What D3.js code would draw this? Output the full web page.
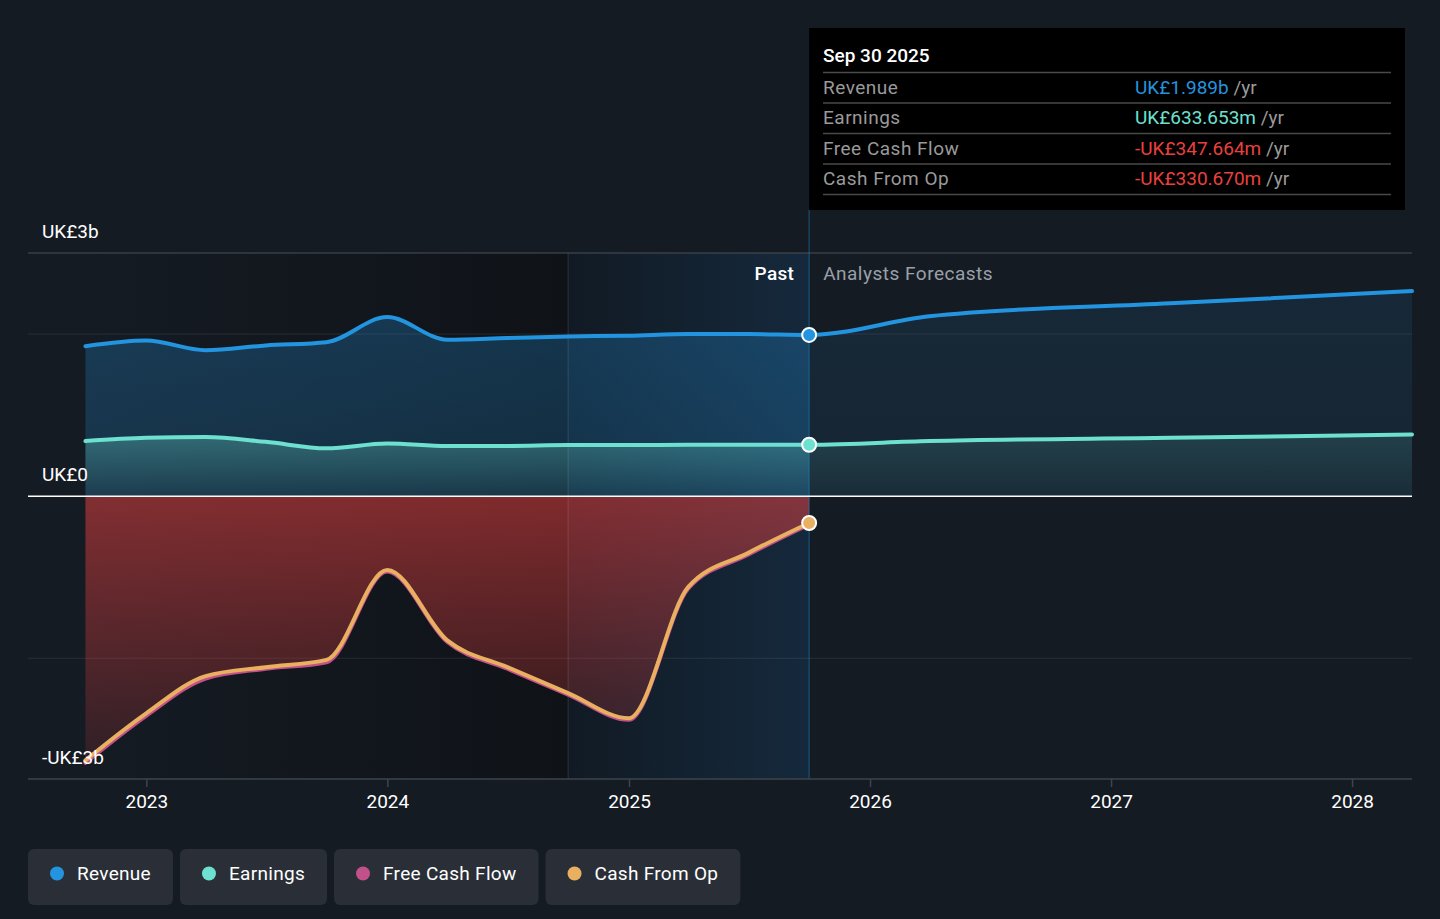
<!DOCTYPE html>
<html>
<head>
<meta charset="utf-8">
<script src="https://cdn.jsdelivr.net/npm/d3@7"></script>
<style>
    html, body { margin: 0; padding: 0; background: #151b23; }
    body { width: 1440px; height: 919px; overflow: hidden; font-family: Roboto, "Noto Sans", sans-serif; }
</style>
</head>
<body>
<div id="chart"></div>
<script>
// values in billions of UK£
const periods = [
    "2022-09-30", "2022-12-31", "2023-03-31", "2023-06-30", "2023-09-30",
    "2023-12-31", "2024-03-31", "2024-06-30", "2024-09-30", "2024-12-31",
    "2025-03-31", "2025-06-30", "2025-09-30",
];
const revenue = [1.85, 1.92, 1.80, 1.86, 1.90, 2.21, 1.93, 1.95, 1.97, 1.98, 2.0, 2.0, 1.989];
const earnings = [0.68, 0.72, 0.73, 0.67, 0.59, 0.65, 0.62, 0.62, 0.63, 0.63, 0.633, 0.633, 0.634];
const freeCashFlow = [-3.29, -2.71, -2.25, -2.13, -2.05, -0.93, -1.80, -2.13, -2.45, -2.76, -1.14, -0.72, -0.348];
const cashFromOp = [-3.26, -2.68, -2.22, -2.11, -2.02, -0.91, -1.78, -2.11, -2.43, -2.74, -1.12, -0.70, -0.331];

const forecastPeriods = ["2025-09-30", "2026-03-31", "2027-03-31", "2028-03-31"];
const revenueForecast = [1.989, 2.22, 2.38, 2.53];
const earningsForecast = [0.634, 0.68, 0.72, 0.76];

const yearTicks = ["2023", "2024", "2025", "2026", "2027", "2028"];
const yTickValues = [3, 0, -3.49];
const yTickLabels = ["UK£3b", "UK£0", "-UK£3b"];
const gridValues = [2, -2];

const highlightStart = "2024-09-30";
const tooltipTitle = "Sep 30 2025";
const tooltipLabels = ["Revenue", "Earnings", "Free Cash Flow", "Cash From Op"];
const tooltipValues = ["UK£1.989b", "UK£633.653m", "-UK£347.664m", "-UK£330.670m"];
const legendLabels = ["Revenue", "Earnings", "Free Cash Flow", "Cash From Op"];

const colors = {
    revenue: "#2394df",
    earnings: "#6de0d0",
    fcf: "#c2508a",
    cfo: "#e9b062",
    negative: "#e8403f",
};
const legendColors = [colors.revenue, colors.earnings, colors.fcf, colors.cfo];
const tooltipColors = [colors.revenue, colors.earnings, colors.negative, colors.negative];

const parseDate = d3.timeParse("%Y-%m-%d");

const svg = d3.select("#chart")
    .append("svg")
    .attr("width", 1440)
    .attr("height", 919)
    .style("font-family", "Roboto, 'Noto Sans', sans-serif");

const x = d3.scaleTime()
    .domain([new Date(2022, 6, 5), new Date(2028, 2, 31)])
    .range([28, 1412]);
const y = d3.scaleLinear().domain([-3.49, 3]).range([779, 253]);

const past = periods.map((p, i) => ({
    date: parseDate(p),
    revenue: revenue[i],
    earnings: earnings[i],
    fcf: freeCashFlow[i],
    cfo: cashFromOp[i],
}));
const future = forecastPeriods.map((p, i) => ({
    date: parseDate(p),
    revenue: revenueForecast[i],
    earnings: earningsForecast[i],
}));

const xStart = x(past[0].date);
const xHigh = x(parseDate(highlightStart));
const xNow = x(past[past.length - 1].date);
const xEnd = x.range()[1];
const yTop = y(3);
const yBottom = y.range()[0];

const defs = svg.append("defs");

function linGrad(id, x1, y1, x2, y2, stops) {
    const g = defs.append("linearGradient")
        .attr("id", id)
        .attr("gradientUnits", "userSpaceOnUse")
        .attr("x1", x1).attr("y1", y1)
        .attr("x2", x2).attr("y2", y2);
    stops.forEach((s) => {
        g.append("stop")
            .attr("offset", s[0])
            .attr("stop-color", s[1])
            .attr("stop-opacity", s[2]);
    });
}

linGrad("past-bg", xStart, 0, xHigh, 0, [[0, "#151b23", 1], [1, "#0f1318", 1]]);
linGrad("high-bg", xHigh, 0, xNow, 0, [[0, "#111a24", 1], [1, "#15293c", 1]]);
linGrad("rev-past", 0, y(2.2), 0, y(0), [[0, colors.revenue, 0.27], [1, colors.revenue, 0.19]]);
linGrad("rev-future", 0, y(2.5), 0, y(0), [[0, colors.revenue, 0.11], [1, colors.revenue, 0.08]]);
linGrad("earn-past", 0, y(0.7), 0, y(0), [[0, colors.earnings, 0.3], [1, colors.earnings, 0.06]]);
linGrad("earn-future", 0, y(0.75), 0, y(0), [[0, colors.earnings, 0.14], [1, colors.earnings, 0.04]]);
linGrad("neg-past", 0, y(0), 0, yBottom, [[0, colors.negative, 0.52], [1, colors.negative, 0.1]]);

defs.append("clipPath").attr("id", "clip-past")
    .append("rect").attr("x", 0).attr("y", 0).attr("width", xNow).attr("height", 919);
defs.append("clipPath").attr("id", "clip-future")
    .append("rect").attr("x", xNow).attr("y", 0).attr("width", 1440 - xNow).attr("height", 919);

// background bands
svg.append("rect")
    .attr("x", xStart).attr("y", yTop)
    .attr("width", xHigh - xStart).attr("height", yBottom - yTop)
    .attr("fill", "url(#past-bg)");
svg.append("rect")
    .attr("x", xHigh).attr("y", yTop)
    .attr("width", xNow - xHigh).attr("height", yBottom - yTop)
    .attr("fill", "url(#high-bg)");

// grid
svg.append("line")
    .attr("x1", 28).attr("x2", xEnd)
    .attr("y1", yTop).attr("y2", yTop)
    .attr("stroke", "#4a5159").attr("stroke-width", 1.2);
svg.append("g")
    .selectAll("line")
    .data(gridValues)
    .enter()
    .append("line")
    .attr("x1", 28).attr("x2", xEnd)
    .attr("y1", (d) => y(d)).attr("y2", (d) => y(d))
    .attr("stroke", "#ffffff").attr("stroke-opacity", 0.09).attr("stroke-width", 1);

const curve = d3.curveMonotoneX;

function area(key, data) {
    return d3.area().curve(curve).x((d) => x(d.date)).y0(y(0)).y1((d) => y(d[key]))(data);
}
function line(key, data) {
    return d3.line().curve(curve).x((d) => x(d.date)).y((d) => y(d[key]))(data);
}

// areas
const revAll = past.map((d) => ({ date: d.date, revenue: d.revenue, earnings: d.earnings }))
    .concat(future.slice(1));
svg.append("path").attr("d", area("revenue", revAll))
    .attr("fill", "url(#rev-past)").attr("clip-path", "url(#clip-past)");
svg.append("path").attr("d", area("revenue", revAll))
    .attr("fill", "url(#rev-future)").attr("clip-path", "url(#clip-future)");
svg.append("path").attr("d", area("earnings", revAll))
    .attr("fill", "url(#earn-past)").attr("clip-path", "url(#clip-past)");
svg.append("path").attr("d", area("earnings", revAll))
    .attr("fill", "url(#earn-future)").attr("clip-path", "url(#clip-future)");
svg.append("path").attr("d", area("fcf", past))
    .attr("fill", "url(#neg-past)");

// vertical markers
svg.append("line")
    .attr("x1", xHigh).attr("x2", xHigh).attr("y1", yTop).attr("y2", yBottom)
    .attr("stroke", "#ffffff").attr("stroke-opacity", 0.08).attr("stroke-width", 1.5);
svg.append("line")
    .attr("x1", xNow).attr("x2", xNow).attr("y1", 210).attr("y2", yBottom)
    .attr("stroke", colors.revenue).attr("stroke-opacity", 0.4).attr("stroke-width", 1.2);

// zero line
svg.append("line")
    .attr("x1", 28).attr("x2", xEnd)
    .attr("y1", y(0)).attr("y2", y(0))
    .attr("stroke", "#ffffff").attr("stroke-width", 1.5);

// lines
svg.append("path").attr("d", line("revenue", revAll))
    .attr("fill", "none").attr("stroke", colors.revenue).attr("stroke-width", 4)
    .attr("stroke-linecap", "round");
svg.append("path").attr("d", line("earnings", revAll))
    .attr("fill", "none").attr("stroke", colors.earnings).attr("stroke-width", 4)
    .attr("stroke-linecap", "round");
svg.append("path").attr("d", line("fcf", past))
    .attr("fill", "none").attr("stroke", colors.fcf).attr("stroke-width", 4)
    .attr("stroke-linecap", "round");
svg.append("path").attr("d", line("cfo", past))
    .attr("fill", "none").attr("stroke", colors.cfo).attr("stroke-width", 4)
    .attr("stroke-linecap", "round");

// end markers
const last = past[past.length - 1];
[["revenue", colors.revenue], ["earnings", colors.earnings], ["cfo", colors.cfo]].forEach((m) => {
    svg.append("circle")
        .attr("cx", x(last.date)).attr("cy", y(last[m[0]]))
        .attr("r", 7)
        .attr("fill", m[1])
        .attr("stroke", "#ffffff").attr("stroke-width", 2);
});

// x axis
svg.append("line")
    .attr("x1", 28).attr("x2", xEnd)
    .attr("y1", yBottom).attr("y2", yBottom)
    .attr("stroke", "#3d444c").attr("stroke-width", 1.5);
const xTicks = svg.append("g")
    .selectAll("g")
    .data(yearTicks)
    .enter()
    .append("g")
    .attr("transform", (d) => `translate(${x(parseDate(d + "-01-01"))},${yBottom})`);
xTicks.append("line").attr("y1", 0).attr("y2", 8)
    .attr("stroke", "#3d444c").attr("stroke-width", 1.5);
xTicks.append("text")
    .attr("y", 29)
    .attr("text-anchor", "middle")
    .attr("fill", "#ffffff")
    .attr("font-size", 19)
    .text((d) => d);

// y labels
svg.append("g")
    .selectAll("text")
    .data(yTickValues)
    .enter()
    .append("text")
    .attr("x", 42)
    .attr("y", (d) => y(d) - 15)
    .attr("fill", "#ffffff")
    .attr("font-size", 19)
    .text((d, i) => yTickLabels[i]);

// past / forecast labels
svg.append("text")
    .attr("x", xNow - 15).attr("y", 280)
    .attr("text-anchor", "end")
    .attr("fill", "#ffffff")
    .attr("font-size", 19)
    .attr("font-weight", 500)
    .attr("letter-spacing", 0.3)
    .text("Past");
svg.append("text")
    .attr("x", xNow + 14).attr("y", 280)
    .attr("fill", "#9aa0a7")
    .attr("font-size", 19)
    .attr("letter-spacing", 0.5)
    .text("Analysts Forecasts");

// tooltip
const tip = svg.append("g");
tip.append("rect")
    .attr("x", xNow).attr("y", 28)
    .attr("width", 1405 - xNow).attr("height", 182)
    .attr("fill", "#000000");
tip.append("text")
    .attr("x", 823).attr("y", 62)
    .attr("fill", "#ffffff")
    .attr("font-size", 19)
    .attr("font-weight", 500)
    .text(tooltipTitle);
const rowY = d3.scaleLinear().domain([0, 1]).range([72.5, 103]);
tip.selectAll("line")
    .data(d3.range(tooltipLabels.length + 1))
    .enter()
    .append("line")
    .attr("x1", 823).attr("x2", 1391)
    .attr("y1", (d) => rowY(d)).attr("y2", (d) => rowY(d))
    .attr("stroke", "#4a4a4a").attr("stroke-width", 1.5);
const rows = tip.selectAll("g.row")
    .data(tooltipLabels)
    .enter()
    .append("g")
    .attr("class", "row")
    .attr("transform", (d, i) => `translate(0,${rowY(i) + 21})`);
rows.append("text")
    .attr("x", 823)
    .attr("fill", "#9a9a9a")
    .attr("font-size", 19)
    .attr("letter-spacing", 0.5)
    .text((d) => d);
const vt = rows.append("text")
    .attr("x", 1135)
    .attr("font-size", 19);
vt.append("tspan")
    .attr("fill", (d, i) => tooltipColors[i])
    .text((d, i) => tooltipValues[i]);
vt.append("tspan")
    .attr("fill", "#9a9a9a")
    .text(" /yr");

// legend
const legend = svg.append("g");
let lx = 28;
legendLabels.forEach((label, i) => {
    const g = legend.append("g").attr("transform", `translate(${lx},849)`);
    const box = g.append("rect")
        .attr("height", 56).attr("rx", 6)
        .attr("fill", "#2a2f37");
    g.append("circle")
        .attr("cx", 29).attr("cy", 24.5).attr("r", 7)
        .attr("fill", legendColors[i]);
    const t = g.append("text")
        .attr("x", 49).attr("y", 31)
        .attr("fill", "#ffffff")
        .attr("font-size", 19)
        .attr("letter-spacing", 0.3)
        .text(label);
    const w = 49 + t.node().getComputedTextLength() + 22;
    box.attr("width", w);
    lx += w + 7;
});
</script>
</body>
</html>
